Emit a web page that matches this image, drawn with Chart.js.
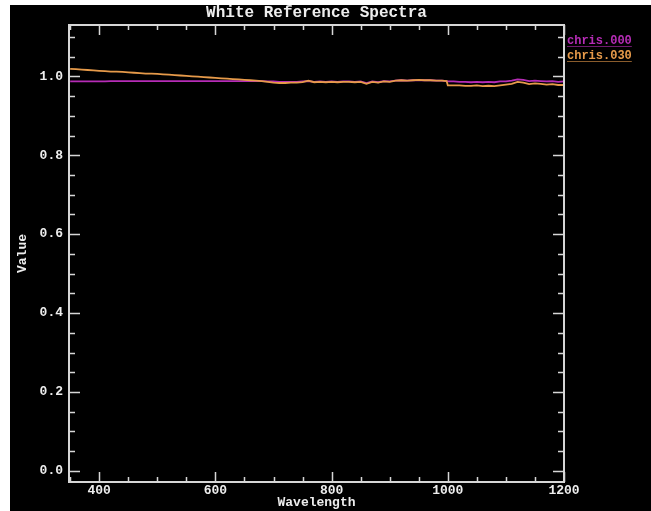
<!DOCTYPE html>
<html>
<head>
<meta charset="utf-8">
<script src="https://cdn.jsdelivr.net/npm/chart.js@4"></script>
<style>
html, body { margin: 0; padding: 0; background: #fff; }
</style>
</head>
<body>
<canvas id="chart" width="651" height="511"></canvas>
<script>
// spectra
const wavelengths = [350,360,370,380,390,400,410,420,430,440,450,460,470,480,490,500,510,520,530,540,
  550,560,570,580,590,600,610,620,630,640,650,660,670,680,690,700,710,720,730,740,
  750,760,770,780,790,800,810,820,830,840,850,860,870,880,890,900,910,920,930,940,
  950,960,970,980,990,998,1000,1010,1020,1030,1040,1050,1060,1070,1080,1090,1100,
  1110,1120,1130,1140,1150,1160,1170,1180,1190,1200];

const chris000 = [0.987,0.987,0.987,0.987,0.987,0.987,0.987,0.988,0.988,0.988,
  0.988,0.988,0.988,0.988,0.988,0.988,0.988,0.988,0.988,0.988,
  0.988,0.988,0.988,0.988,0.988,0.988,0.988,0.988,0.988,0.988,
  0.988,0.988,0.988,0.988,0.987,0.987,0.986,0.986,0.986,0.986,
  0.987,0.988,0.986,0.987,0.986,0.987,0.986,0.987,0.987,0.986,
  0.987,0.983,0.987,0.985,0.988,0.987,0.989,0.990,0.989,0.990,
  0.990,0.990,0.990,0.989,0.989,0.988,0.987,0.987,0.986,0.986,
  0.985,0.986,0.985,0.986,0.985,0.987,0.987,0.989,0.992,0.991,
  0.988,0.989,0.988,0.987,0.988,0.986,0.987];

const chris030 = [1.019,1.018,1.017,1.016,1.015,1.014,1.013,1.012,1.012,1.011,
  1.010,1.009,1.008,1.007,1.007,1.006,1.005,1.004,1.003,1.002,
  1.001,1.000,0.999,0.998,0.997,0.996,0.995,0.994,0.993,0.992,
  0.991,0.990,0.989,0.988,0.986,0.984,0.983,0.983,0.984,0.984,
  0.985,0.989,0.985,0.986,0.985,0.986,0.985,0.986,0.986,0.985,
  0.986,0.981,0.986,0.984,0.987,0.986,0.989,0.990,0.989,0.990,
  0.991,0.990,0.990,0.989,0.989,0.988,0.977,0.977,0.977,0.976,
  0.976,0.977,0.975,0.976,0.975,0.977,0.979,0.981,0.986,0.984,
  0.980,0.982,0.981,0.979,0.980,0.978,0.978];

const seriesNames = ['chris.000', 'chris.030'];
const xTickLabels = [400, 600, 800, 1000, 1200];
const yTickLabels = [0.0, 0.2, 0.4, 0.6, 0.8, 1.0];
const xMinorStep = 50;
const yMinorStep = 0.05;
const chartTitle = 'White Reference Spectra';

const axisColor = '#d6d6d6';
const textColor = '#ededed';
const monoFont = "'Liberation Mono', 'DejaVu Sans Mono', monospace";

// black panel behind everything (white strip left & top like the screenshot)
const panelBg = {
  id: 'panelBg',
  beforeDraw(chart) {
    const ctx = chart.ctx;
    ctx.save();
    ctx.fillStyle = '#000';
    ctx.fillRect(10, 5, chart.width - 10, chart.height - 5);
    ctx.restore();
  }
};

// title centred over the plot box, not the whole canvas
const plotTitle = {
  id: 'plotTitle',
  afterDraw(chart) {
    const { ctx, chartArea: a } = chart;
    ctx.save();
    ctx.font = 'bold 16px ' + monoFont;
    ctx.fillStyle = textColor;
    ctx.textAlign = 'center';
    ctx.textBaseline = 'middle';
    ctx.fillText(chartTitle, (a.left + a.right) / 2, 13);
    ctx.restore();
  }
};

// box round the plot with inward ticks on all four sides
const frameTicks = {
  id: 'frameTicks',
  afterDraw(chart) {
    const { ctx, chartArea: a, scales: { x, y } } = chart;
    ctx.save();
    ctx.strokeStyle = axisColor;
    ctx.lineWidth = 1.5;
    ctx.beginPath();
    for (let k = Math.ceil(x.min / xMinorStep); k * xMinorStep <= x.max; k++) {
      const v = k * xMinorStep;
      const len = xTickLabels.includes(v) ? 10 : 5;
      const px = Math.round(x.getPixelForValue(v)) + 0.5;
      ctx.moveTo(px, a.bottom); ctx.lineTo(px, a.bottom - len);
      ctx.moveTo(px, a.top); ctx.lineTo(px, a.top + len);
    }
    for (let k = Math.ceil(y.min / yMinorStep - 1e-6); k * yMinorStep <= y.max + 1e-6; k++) {
      const v = k * yMinorStep;
      const major = yTickLabels.some(t => Math.abs(t - v) < 1e-6);
      const len = major ? 11 : 6;
      const py = Math.round(y.getPixelForValue(v)) + 0.5;
      ctx.moveTo(a.left, py); ctx.lineTo(a.left + len, py);
      ctx.moveTo(a.right, py); ctx.lineTo(a.right - len, py);
    }
    ctx.stroke();
    ctx.lineWidth = 2;
    ctx.strokeRect(a.left, a.top, a.right - a.left, a.bottom - a.top);
    ctx.restore();
  }
};

// legend at the right: coloured, underlined names
const sideLegend = {
  id: 'sideLegend',
  afterDraw(chart) {
    const ctx = chart.ctx;
    const x0 = chart.chartArea.right + 3;
    ctx.save();
    ctx.font = 'bold 12px ' + monoFont;
    ctx.textBaseline = 'alphabetic';
    chart.data.datasets.forEach((ds, i) => {
      const yb = 44 + i * 15;
      ctx.fillStyle = ds.borderColor;
      ctx.fillText(ds.label, x0, yb);
      const w = ctx.measureText(ds.label).width;
      ctx.globalAlpha = 0.6;
      ctx.fillRect(x0, yb + 2, w, 1);
      ctx.globalAlpha = 1;
    });
    ctx.restore();
  }
};

const ctx = document.getElementById('chart').getContext('2d');
new Chart(ctx, {
  type: 'line',
  data: {
    datasets: [
      {
        label: seriesNames[0],
        data: wavelengths.map((w, i) => ({ x: w, y: chris000[i] })),
        borderColor: '#b62cb6',
        borderWidth: 1.8,
        pointRadius: 0,
        tension: 0,
        order: 2
      },
      {
        label: seriesNames[1],
        data: wavelengths.map((w, i) => ({ x: w, y: chris030[i] })),
        borderColor: '#e69a4a',
        borderWidth: 1.8,
        pointRadius: 0,
        tension: 0,
        order: 1
      }
    ]
  },
  options: {
    responsive: false,
    animation: false,
    events: [],
    layout: { padding: { left: 10, top: 25, right: 87, bottom: 0 } },
    plugins: {
      legend: { display: false },
      tooltip: { enabled: false },
      title: { display: false }
    },
    scales: {
      x: {
        type: 'linear',
        min: 348,
        max: 1200,
        grid: { display: false, drawTicks: false },
        border: { display: false },
        afterBuildTicks: scale => { scale.ticks = xTickLabels.map(v => ({ value: v })); },
        afterFit: scale => { scale.height = 29; },
        ticks: {
          color: textColor,
          font: { family: monoFont, size: 13, weight: 'bold' },
          padding: 1,
          maxRotation: 0,
          autoSkip: false,
          callback: v => String(v)
        },
        title: {
          display: true,
          text: 'Wavelength',
          color: textColor,
          font: { family: monoFont, size: 13, weight: 'bold' },
          padding: { top: 0, bottom: 0 }
        }
      },
      y: {
        min: -0.028,
        max: 1.13,
        grid: { display: false, drawTicks: false },
        border: { display: false },
        afterBuildTicks: scale => { scale.ticks = yTickLabels.map(v => ({ value: v })); },
        afterFit: scale => { scale.width = 59; },
        ticks: {
          color: textColor,
          font: { family: monoFont, size: 13, weight: 'bold' },
          padding: 6,
          autoSkip: false,
          callback: v => v.toFixed(1)
        },
        title: {
          display: true,
          text: 'Value',
          color: textColor,
          font: { family: monoFont, size: 13, weight: 'bold' },
          padding: { top: 5, bottom: 0 }
        }
      }
    }
  },
  plugins: [panelBg, frameTicks, sideLegend, plotTitle]
});
</script>
</body>
</html>
